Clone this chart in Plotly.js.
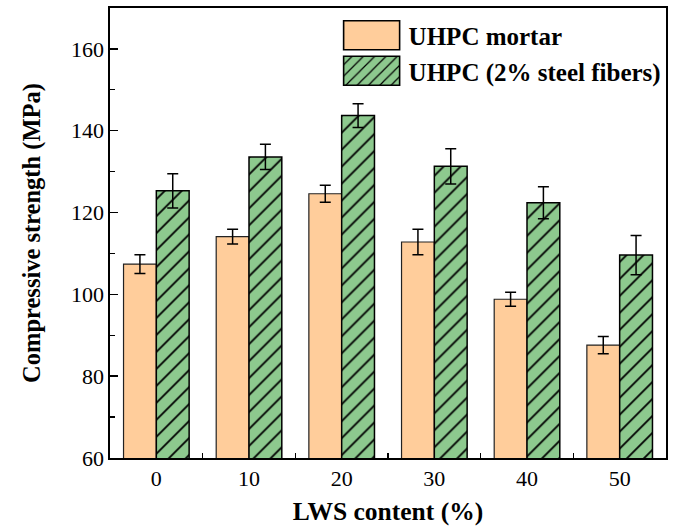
<!DOCTYPE html>
<html><head><meta charset="utf-8">
<script src="https://cdn.plot.ly/plotly-3.0.1.min.js"></script>
<style>body{margin:0;background:#fff}#chart{width:678px;height:528px}</style>
</head><body><div id="chart"></div>
<script>
const lwsContent = [0, 10, 20, 30, 40, 50];
const tickLabels = ['0', '10', '20', '30', '40', '50'];
const mortarStrength = [107.4, 114.1, 124.6, 112.8, 98.8, 87.6];
const mortarError = [2.3, 1.8, 2.1, 3.1, 1.7, 2.1];
const fiberStrength = [125.3, 133.6, 143.7, 131.3, 122.4, 109.6];
const fiberError = [4.2, 3.1, 2.9, 4.3, 3.9, 4.8];
const seriesNames = ['UHPC mortar', 'UHPC (2% steel fibers)'];

const SERIF = 'Liberation Serif, Times New Roman, serif';
const ORANGE = '#FFCD9B';
const GREEN = '#8DC98E';

const traces = [
  {
    type: 'bar', name: seriesNames[0], x: lwsContent, y: mortarStrength,
    marker: {color: ORANGE, line: {color: '#222', width: 1.2}},
    error_y: {type: 'data', array: mortarError, visible: true, color: 'black', thickness: 1.5, width: 5.5}
  },
  {
    type: 'bar', name: seriesNames[1], x: lwsContent, y: fiberStrength,
    marker: {color: GREEN, line: {color: 'black', width: 1.5},
      pattern: {shape: '/', fgcolor: 'black', bgcolor: GREEN, size: 12, solidity: 0.15, fillmode: 'replace'}},
    error_y: {type: 'data', array: fiberError, visible: true, color: 'black', thickness: 1.5, width: 5.5}
  }
];

const layout = {
  width: 678, height: 528,
  margin: {l: 110, r: 12, t: 8, b: 70},
  paper_bgcolor: 'white', plot_bgcolor: 'white',
  font: {family: SERIF, color: 'black'},
  barmode: 'group', bargap: 0.292, bargroupgap: 0,
  showlegend: true,
  legend: {
    x: 0.404, y: 0.99, xanchor: 'left', yanchor: 'top',
    bgcolor: 'rgba(0,0,0,0)', borderwidth: 0,
    font: {family: SERIF, size: 25, weight: 'bold', color: 'black'},
    itemwidth: 64, tracegroupgap: 0, traceorder: 'normal'
  },
  xaxis: {
    range: [-5, 55], tickmode: 'array', tickvals: lwsContent, ticktext: tickLabels,
    ticks: 'inside', ticklen: 0, tickwidth: 1.5, tickcolor: 'black',
    minor: {tickvals: [5, 15, 25, 35, 45], ticks: 'inside', ticklen: 5, tickwidth: 1.3, tickcolor: 'black'},
    showline: true, linecolor: 'black', linewidth: 1.6, mirror: true,
    showgrid: false, zeroline: false,
    tickfont: {family: SERIF, size: 22, color: 'black'},
    title: {text: 'LWS content (%)', font: {family: SERIF, size: 25.5, weight: 'bold', color: 'black'}, standoff: 12}
  },
  yaxis: {
    range: [60, 170], tickmode: 'array', tickvals: [60, 80, 100, 120, 140, 160],
    ticks: 'inside', ticklen: 8, tickwidth: 1.5, tickcolor: 'black',
    minor: {tickvals: [70, 90, 110, 130, 150], ticks: 'inside', ticklen: 5, tickwidth: 1.3, tickcolor: 'black'},
    showline: true, linecolor: 'black', linewidth: 1.6, mirror: true,
    showgrid: false, zeroline: false,
    tickfont: {family: SERIF, size: 22, color: 'black'},
    title: {text: 'Compressive strength (MPa)', font: {family: SERIF, size: 24.5, weight: 'bold', color: 'black'}, standoff: 23}
  }
};

Plotly.newPlot('chart', traces, layout, {staticPlot: true}).then(function () {
  document.querySelectorAll('.legend .legendpoints path').forEach(function (p) {
    p.setAttribute('d', 'M28,14.5H-28V-14.5H28Z');
    p.style.strokeWidth = '1.6px';
    p.style.stroke = 'black';
  });
});
</script>
</body></html>
